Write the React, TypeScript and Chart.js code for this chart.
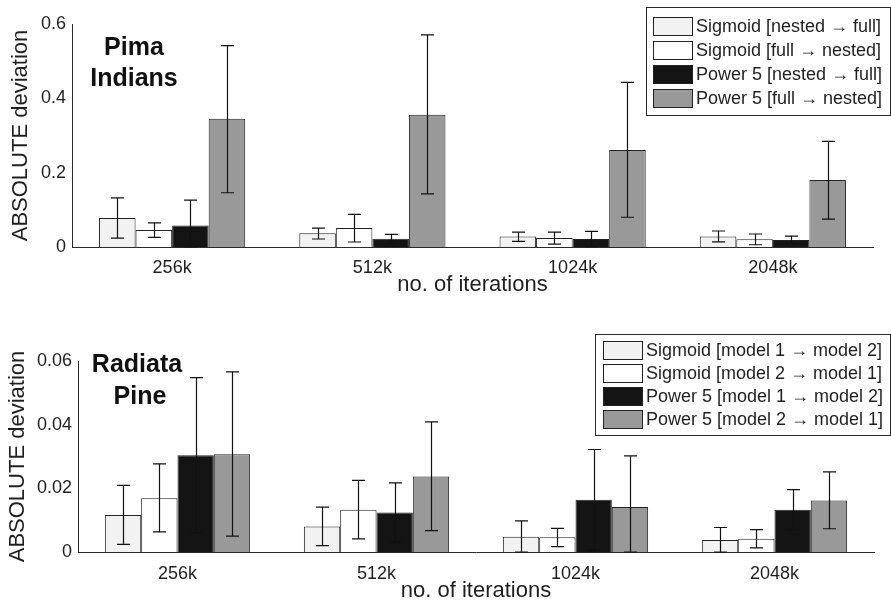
import React, { useEffect, useRef } from 'react';
import { Chart, registerables } from 'chart.js';

Chart.register(...registerables);

// ---------- data ----------
const categories = ['256k', '512k', '1024k', '2048k'];

const pimaTicks = [0, 0.2, 0.4, 0.6];
const pineTicks = [0, 0.02, 0.04, 0.06];

const pimaLabels = [
  'Sigmoid [nested → full]',
  'Sigmoid [full → nested]',
  'Power 5 [nested → full]',
  'Power 5 [full → nested]',
];
const pineLabels = [
  'Sigmoid [model 1 → model 2]',
  'Sigmoid [model 2 → model 1]',
  'Power 5 [model 1 → model 2]',
  'Power 5 [model 2 → model 1]',
];

// Pima Indians
const pimaSigNF = [0.078, 0.037, 0.028, 0.028];
const pimaSigNFLow = [0.024, 0.0215, 0.015, 0.014];
const pimaSigNFHigh = [0.132, 0.051, 0.04, 0.043];

const pimaSigFN = [0.046, 0.051, 0.024, 0.021];
const pimaSigFNLow = [0.026, 0.0135, 0.008, 0.006];
const pimaSigFNHigh = [0.065, 0.088, 0.04, 0.035];

const pimaPowNF = [0.058, 0.022, 0.0215, 0.019];
const pimaPowNFLow = [0.0, 0.01, 0.001, 0.009];
const pimaPowNFHigh = [0.126, 0.034, 0.042, 0.029];

const pimaPowFN = [0.345, 0.356, 0.261, 0.18];
const pimaPowFNLow = [0.146, 0.143, 0.08, 0.075];
const pimaPowFNHigh = [0.542, 0.571, 0.443, 0.284];

// Radiata Pine
const pineSig12 = [0.0116, 0.008, 0.0048, 0.0038];
const pineSig12Low = [0.0024, 0.002, 0.0, 0.0];
const pineSig12High = [0.0209, 0.0141, 0.0098, 0.0077];

const pineSig21 = [0.0169, 0.0133, 0.0046, 0.0042];
const pineSig21Low = [0.0063, 0.0041, 0.0017, 0.0013];
const pineSig21High = [0.0277, 0.0225, 0.0074, 0.007];

const pinePow12 = [0.0304, 0.0124, 0.0164, 0.0133];
const pinePow12Low = [0.006, 0.0031, 0.0006, 0.007];
const pinePow12High = [0.0548, 0.0217, 0.0322, 0.0196];

const pinePow21 = [0.0307, 0.0237, 0.0141, 0.0162];
const pinePow21Low = [0.005, 0.0067, 0.0, 0.0073];
const pinePow21High = [0.0566, 0.0409, 0.0302, 0.0252];

// ---------- styles ----------
const FONT = '"Liberation Sans", Arial, Helvetica, sans-serif';
const TEXT = '#1f1f1f';
const AXIS = '#2a2a2a';
const FILLS = ['#f2f2f2', '#ffffff', '#141414', '#999999'];
const EDGE = '#222222';

const errorBarPlugin = {
  id: 'errorBars',
  afterDatasetsDraw(chart: any) {
    const ctx = chart.ctx;
    const ys = chart.scales.y;
    const cap = 6.5;
    ctx.save();
    ctx.strokeStyle = '#111111';
    ctx.lineWidth = 1.2;
    chart.data.datasets.forEach((ds: any, i: number) => {
      const meta = chart.getDatasetMeta(i);
      meta.data.forEach((el: any, j: number) => {
        const x = Math.round(el.x) + 0.5;
        const yl = ys.getPixelForValue(ds.errLow[j]);
        const yh = ys.getPixelForValue(ds.errHigh[j]);
        ctx.beginPath();
        ctx.moveTo(x, yl);
        ctx.lineTo(x, yh);
        ctx.moveTo(x - cap, yh);
        ctx.lineTo(x + cap, yh);
        ctx.moveTo(x - cap, yl);
        ctx.lineTo(x + cap, yl);
        ctx.stroke();
      });
    });
    ctx.restore();
  },
};

const boxLegendPlugin = {
  id: 'boxLegend',
  afterDraw(chart: any, _args: any, opts: any) {
    if (!opts || !opts.box) return;
    const ctx = chart.ctx;
    const [bx, by, bw, bh] = opts.box;
    ctx.save();
    ctx.fillStyle = '#ffffff';
    ctx.fillRect(bx, by, bw, bh);
    ctx.strokeStyle = AXIS;
    ctx.lineWidth = 1;
    ctx.strokeRect(Math.round(bx) + 0.5, Math.round(by) + 0.5, Math.round(bw), Math.round(bh));
    ctx.font = `${opts.fontSize}px ${FONT}`;
    ctx.textBaseline = 'middle';
    ctx.textAlign = 'left';
    chart.data.datasets.forEach((ds: any, i: number) => {
      const cy = opts.firstRow + i * opts.rowStep;
      const sx = opts.swatchX;
      const sy = Math.round(cy - opts.swatchH / 2);
      ctx.fillStyle = ds.backgroundColor;
      ctx.fillRect(sx, sy, opts.swatchW, opts.swatchH);
      ctx.strokeStyle = EDGE;
      ctx.strokeRect(Math.round(sx) + 0.5, sy + 0.5, opts.swatchW, opts.swatchH);
      ctx.fillStyle = TEXT;
      ctx.fillText(ds.label, opts.textX, cy + 1);
    });
    ctx.restore();
  },
};

const panelTitlePlugin = {
  id: 'panelTitle',
  afterDraw(chart: any, _args: any, opts: any) {
    if (!opts || !opts.lines) return;
    const ctx = chart.ctx;
    ctx.save();
    ctx.font = `bold ${opts.fontSize}px ${FONT}`;
    ctx.fillStyle = '#111111';
    ctx.textAlign = 'center';
    ctx.textBaseline = 'middle';
    opts.lines.forEach((ln: any) => ctx.fillText(ln.text, ln.x, ln.y));
    ctx.restore();
  },
};

function makeDatasets(labels: string[], vals: number[][], lows: number[][], highs: number[][]) {
  return labels.map((label, i) => ({
    label,
    data: vals[i],
    errLow: lows[i],
    errHigh: highs[i],
    backgroundColor: FILLS[i],
    borderColor: EDGE,
    borderWidth: 1,
    barPercentage: 1.0,
    categoryPercentage: 0.73,
  }));
}

function makeConfig(p: any) {
  return {
    type: 'bar',
    data: { labels: categories, datasets: p.datasets },
    plugins: [errorBarPlugin, boxLegendPlugin, panelTitlePlugin],
    options: {
      animation: false,
      responsive: false,
      maintainAspectRatio: false,
      layout: { padding: { top: p.padTop, right: p.padRight, left: 0, bottom: 0 } },
      plugins: {
        legend: { display: false },
        tooltip: { enabled: false },
        boxLegend: p.legend,
        panelTitle: p.title,
      },
      scales: {
        x: {
          type: 'category',
          offset: true,
          grid: { display: false, drawTicks: false },
          border: { display: true, color: AXIS, width: 1 },
          ticks: { color: TEXT, font: { family: FONT, size: 18 }, padding: p.xTickPad, maxRotation: 0 },
          title: {
            display: true,
            text: 'no. of iterations',
            color: TEXT,
            font: { family: FONT, size: 22 },
            padding: { top: 0, bottom: p.xTitlePad },
          },
          afterFit: (s: any) => {
            s.height = p.xHeight;
          },
        },
        y: {
          type: 'linear',
          min: p.ticks[0],
          max: p.ticks[p.ticks.length - 1],
          grid: { display: false, drawTicks: false },
          border: { display: true, color: AXIS, width: 1 },
          ticks: { color: TEXT, font: { family: FONT, size: 18 }, padding: 6 },
          afterBuildTicks: (s: any) => {
            s.ticks = p.ticks.map((v: number) => ({ value: v }));
          },
          title: {
            display: true,
            text: 'ABSOLUTE deviation',
            color: TEXT,
            font: { family: FONT, size: 22 },
            padding: { top: p.yTitlePad, bottom: 0 },
          },
          afterFit: (s: any) => {
            s.width = p.yWidth;
          },
        },
      },
    },
  };
}

function BarPanel({ height, params }: { height: number; params: any }) {
  const ref = useRef<HTMLCanvasElement | null>(null);
  useEffect(() => {
    if (!ref.current) return;
    const chart = new Chart(ref.current, makeConfig(params) as any);
    return () => chart.destroy();
  }, []);
  return <canvas ref={ref} width={891} height={height} style={{ display: 'block', width: 891, height }} />;
}

const topParams = {
  datasets: makeDatasets(
    pimaLabels,
    [pimaSigNF, pimaSigFN, pimaPowNF, pimaPowFN],
    [pimaSigNFLow, pimaSigFNLow, pimaPowNFLow, pimaPowFNLow],
    [pimaSigNFHigh, pimaSigFNHigh, pimaPowNFHigh, pimaPowFNHigh]
  ),
  ticks: pimaTicks,
  padTop: 24,
  padRight: 18,
  yWidth: 72,
  xHeight: 53,
  xTickPad: 10,
  xTitlePad: 2,
  yTitlePad: 8,
  legend: {
    box: [646, 7, 244, 108],
    fontSize: 18,
    firstRow: 26,
    rowStep: 24,
    swatchX: 653,
    swatchW: 39,
    swatchH: 18,
    textX: 696,
  },
  title: {
    fontSize: 25,
    lines: [
      { text: 'Pima', x: 134, y: 48 },
      { text: 'Indians', x: 134, y: 79 },
    ],
  },
};

const bottomParams = {
  datasets: makeDatasets(
    pineLabels,
    [pineSig12, pineSig21, pinePow12, pinePow21],
    [pineSig12Low, pineSig21Low, pinePow12Low, pinePow21Low],
    [pineSig12High, pineSig21High, pinePow12High, pinePow21High]
  ),
  ticks: pineTicks,
  padTop: 61,
  padRight: 17,
  yWidth: 78,
  xHeight: 51,
  xTickPad: 11,
  xTitlePad: -1,
  yTitlePad: 5,
  legend: {
    box: [595, 34, 295, 101],
    fontSize: 18,
    firstRow: 50,
    rowStep: 23,
    swatchX: 603,
    swatchW: 39,
    swatchH: 18,
    textX: 646,
  },
  title: {
    fontSize: 25,
    lines: [
      { text: 'Radiata', x: 137, y: 65 },
      { text: 'Pine', x: 140, y: 97 },
    ],
  },
};

export default function App() {
  return (
    <div style={{ position: 'fixed', left: 0, top: 0, width: 891, height: 603, background: '#ffffff' }}>
      <BarPanel height={300} params={topParams} />
      <BarPanel height={303} params={bottomParams} />
    </div>
  );
}
